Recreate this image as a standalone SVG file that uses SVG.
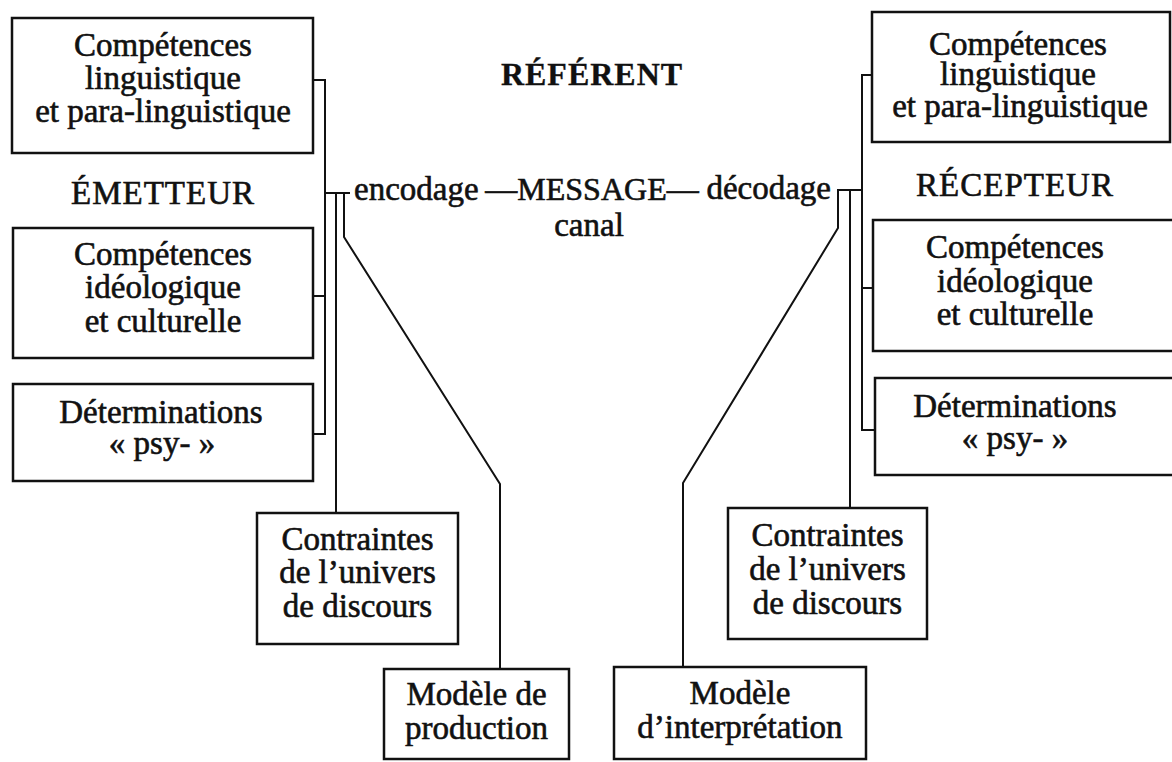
<svg xmlns="http://www.w3.org/2000/svg" width="1172" height="762" viewBox="0 0 1172 762">
<style>
.box{fill:#fff;stroke:#111;stroke-width:2.5}
.ln{fill:none;stroke:#111;stroke-width:2;stroke-linejoin:miter}
text{font-family:"Liberation Serif","Times New Roman",serif;font-size:33px;fill:#111;stroke:#111;stroke-width:0.6;text-anchor:middle}
.ref{font-weight:bold;letter-spacing:1px;font-size:32px;stroke-width:0.3}
.cap{letter-spacing:1px}
.st{text-anchor:start}
.en{text-anchor:end}
</style>
<rect width="1172" height="762" fill="#fff"/>
<g id="connectors" class="ln">
<path d="M313,80 H325 V434 H313"/>
<path d="M313,296 H325"/>
<path d="M325,193 H350"/>
<path d="M336,193 V513"/>
<path d="M344,193 V237 L500,484 V668"/>
<path d="M872,75 H862 V430 H875"/>
<path d="M862,288 H873"/>
<path d="M862,190 H837"/>
<path d="M850,190 V508"/>
<path d="M838,190 V228 L683,483 V666"/>
</g>
<g id="referent"><text class="ref" x="592" y="85">RÉFÉRENT</text></g>
<g id="emetteur"><text class="cap" x="163" y="204">ÉMETTEUR</text></g>
<g id="recepteur"><text class="cap" x="1015" y="196">RÉCEPTEUR</text></g>
<g id="message">
<text class="st" x="354" y="200">encodage</text>
<text x="592" y="200" style="font-size:32px">—MESSAGE—</text>
<text class="en" x="831" y="199">décodage</text>
<text x="589" y="236">canal</text>
</g>
<g id="e-comp-ling">
<rect class="box" x="12" y="18" width="301" height="135"/>
<text x="163" y="56">Compétences</text>
<text x="163" y="89">linguistique</text>
<text x="163" y="122">et para-linguistique</text>
</g>
<g id="e-comp-ideo">
<rect class="box" x="13" y="228" width="300" height="130"/>
<text x="163" y="265">Compétences</text>
<text x="163" y="298">idéologique</text>
<text x="163" y="332">et culturelle</text>
</g>
<g id="e-psy">
<rect class="box" x="13" y="384" width="300" height="97"/>
<text x="161" y="423">Déterminations</text>
<text x="162" y="454">« psy- »</text>
</g>
<g id="e-contraintes">
<rect class="box" x="257" y="513" width="201" height="131"/>
<text x="357.5" y="550">Contraintes</text>
<text x="357.5" y="583">de l’univers</text>
<text x="357.5" y="617">de discours</text>
</g>
<g id="modele-production">
<rect class="box" x="384" y="669" width="185" height="90"/>
<text x="476.5" y="705">Modèle de</text>
<text x="476.5" y="739">production</text>
</g>
<g id="modele-interpretation">
<rect class="box" x="614" y="667" width="252" height="92"/>
<text x="740" y="704">Modèle</text>
<text x="740" y="738">d’interprétation</text>
</g>
<g id="r-contraintes">
<rect class="box" x="728" y="508" width="199" height="131"/>
<text x="827.5" y="546">Contraintes</text>
<text x="827.5" y="580">de l’univers</text>
<text x="827.5" y="614">de discours</text>
</g>
<g id="r-comp-ling">
<rect class="box" x="872" y="12" width="298" height="130"/>
<text x="1018" y="55">Compétences</text>
<text x="1018" y="85">linguistique</text>
<text x="1020" y="117">et para-linguistique</text>
</g>
<g id="r-comp-ideo">
<rect class="box" x="873" y="220" width="310" height="131"/>
<text x="1015" y="258">Compétences</text>
<text x="1015" y="292">idéologique</text>
<text x="1015" y="325">et culturelle</text>
</g>
<g id="r-psy">
<rect class="box" x="875" y="378" width="310" height="97"/>
<text x="1015" y="417">Déterminations</text>
<text x="1015" y="449">« psy- »</text>
</g>
</svg>
